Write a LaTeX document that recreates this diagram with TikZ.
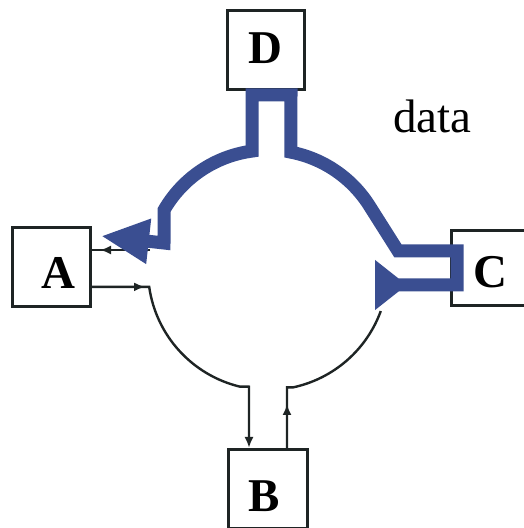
\documentclass[tikz,border=0pt]{standalone}
\usepackage{fontspec}
\setmainfont{Liberation Serif}
\usetikzlibrary{arrows.meta,decorations.markings}
\definecolor{flowblue}{HTML}{3A4E91}
\definecolor{inkc}{HTML}{1E2424}
\newcommand\lblfont{\fontsize{47}{50}\selectfont\bfseries}
\tikzset{
  box/.style={draw=inkc, line width=3pt, fill=white, inner sep=0pt},
  lbl/.style={font=\lblfont, inner sep=0pt},
  thin/.style={draw=inkc, line width=2.4pt},
  midarrow/.style={postaction={decorate},
    decoration={markings, mark=at position #1 with {\arrow{Latex[length=11pt,width=9pt]}}}},
  flow/.style={draw=flowblue, line width=13pt, line join=miter}
}
\begin{document}
\begin{tikzpicture}[x=1pt,y=1pt]
\clip (0,0) rectangle (524,528);
% boxes
\node[box, minimum width=77pt, minimum height=79pt,
      label={[lbl, xshift=-0.5pt, yshift=2pt]center:D}] (D) at (266,478) {};
\node[box, minimum width=78pt, minimum height=79pt,
      label={[lbl, xshift=6.5pt, yshift=-6pt]center:A}] (A) at (51.5,261) {};
\node[box, minimum width=77pt, minimum height=75pt,
      label={[lbl, yshift=-4.5pt]center:C}] (C) at (490,260) {};
\node[box, minimum width=79pt, minimum height=79pt,
      label={[lbl, xshift=-4pt, yshift=-7pt]center:B}] (B) at (268,39) {};
\node[font=\fontsize{47}{50}\selectfont, anchor=base, inner sep=0pt] (data) at (432.5,395) {data};
% black ring connectors
\coordinate (ain) at (150,278);
\path[thin, midarrow=50pt] (ain) -- (A.east |- ain);
\path[thin, midarrow=53pt, -{Latex[length=11pt,width=9pt]}]
  (A.east |- 0,241.1) -- (149.2,241.1)
  arc[start angle=188.1, end angle=256.5, radius=120pt]
  -- (249,141.3) -- (249,0 |- B.north);
\coordinate (cend) at (380.8,217);
\path[thin, midarrow=44pt]
  (287,0 |- B.north) -- (287,140.6) -- (292.95,140.6)
  arc[start angle=282, end angle=340, radius=120pt];
% blue data flow
\path[flow, {Triangle[reversed,length=32pt,width=48pt]}-{Triangle[length=48pt,width=42pt]}]
  (375,243) -- (457,243) -- (457,277) -- (398,277) -- (370.1,321.1)
  arc[start angle=31.7, end angle=79, radius=120pt]
  -- (291,433) -- (252,433) -- (252,376.9)
  arc[start angle=97.66, end angle=150, radius=120pt]
  -- (164,285) -- (101,292);
\end{tikzpicture}
\end{document}
